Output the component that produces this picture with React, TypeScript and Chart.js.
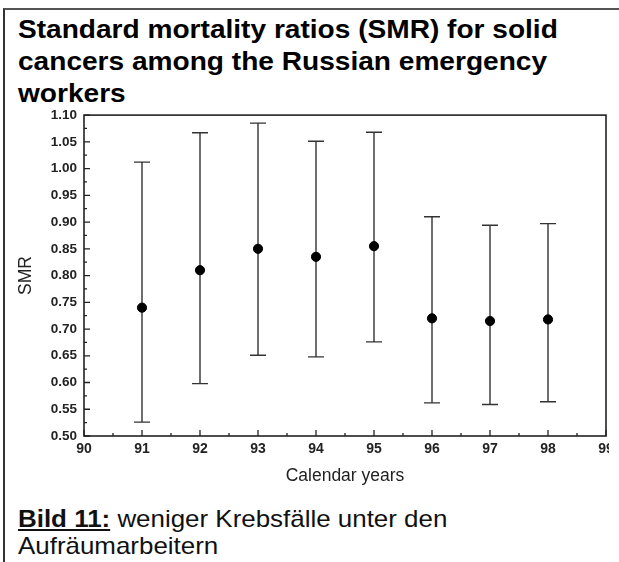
import React, { useEffect, useRef } from "react";
import { Chart, registerables } from "chart.js";

Chart.register(...registerables);

const years = [91, 92, 93, 94, 95, 96, 97, 98];
const smr = [0.74, 0.81, 0.85, 0.835, 0.855, 0.72, 0.715, 0.718];
const lower = [0.526, 0.598, 0.651, 0.648, 0.676, 0.562, 0.559, 0.564];
const upper = [1.012, 1.067, 1.085, 1.051, 1.068, 0.91, 0.894, 0.897];

const xMin = 90;
const xMax = 99;
const yMin = 0.5;
const yMax = 1.1;

const titleLines = [
  "Standard mortality ratios (SMR) for solid",
  "cancers among the Russian emergency",
  "workers",
];
const captionBold = "Bild 11:";
const captionRest = " weniger Krebsfälle unter den";
const captionLine2 = "Aufräumarbeitern";
const xTitle = "Calendar years";
const yTitle = "SMR";

const INK = "#222";

const errorBarsPlugin = {
  id: "errorBars",
  beforeDatasetsDraw(chart: any) {
    const { ctx, scales } = chart;
    const x = scales.x;
    const y = scales.y;
    ctx.save();
    ctx.strokeStyle = "#333";
    ctx.lineWidth = 1.4;
    const cap = 8;
    years.forEach((yr, i) => {
      const px = x.getPixelForValue(yr);
      const pLo = y.getPixelForValue(lower[i]);
      const pHi = y.getPixelForValue(upper[i]);
      ctx.beginPath();
      ctx.moveTo(px, pLo);
      ctx.lineTo(px, pHi);
      ctx.moveTo(px - cap, pLo);
      ctx.lineTo(px + cap, pLo);
      ctx.moveTo(px - cap, pHi);
      ctx.lineTo(px + cap, pHi);
      ctx.stroke();
    });
    ctx.restore();
  },
  afterDraw(chart: any) {
    const { ctx, scales, chartArea } = chart;
    const x = scales.x;
    const y = scales.y;
    ctx.save();
    ctx.strokeStyle = "#222";
    ctx.lineWidth = 1.6;
    ctx.strokeRect(
      chartArea.left,
      chartArea.top,
      chartArea.right - chartArea.left,
      chartArea.bottom - chartArea.top
    );
    ctx.lineWidth = 1.3;
    ctx.beginPath();
    const nx = Math.round((xMax - xMin) * 2);
    for (let i = 0; i <= nx; i++) {
      const v = xMin + i * 0.5;
      const px = x.getPixelForValue(v);
      const len = i % 2 === 0 ? 6 : 3;
      ctx.moveTo(px, chartArea.bottom);
      ctx.lineTo(px, chartArea.bottom - len);
    }
    const ny = Math.round((yMax - yMin) / 0.025);
    for (let i = 0; i <= ny; i++) {
      const v = yMin + i * 0.025;
      const py = y.getPixelForValue(v);
      const len = i % 2 === 0 ? 6 : 3;
      ctx.moveTo(chartArea.left, py);
      ctx.lineTo(chartArea.left + len, py);
    }
    ctx.stroke();
    ctx.restore();
  },
};

function SmrChart() {
  const ref = useRef<HTMLCanvasElement | null>(null);
  useEffect(() => {
    if (!ref.current) return;
    const chart = new Chart(ref.current, {
      type: "scatter",
      data: {
        datasets: [
          {
            label: yTitle,
            data: years.map((yr, i) => ({ x: yr, y: smr[i] })),
            backgroundColor: "#000",
            borderColor: "#000",
            pointRadius: 4.6,
            pointHoverRadius: 4.6,
          },
        ],
      },
      options: {
        animation: false,
        responsive: false,
        maintainAspectRatio: false,
        events: [],
        layout: { padding: { top: 15, right: 13, bottom: 0, left: 0 } },
        plugins: {
          legend: { display: false },
          tooltip: { enabled: false },
        },
        scales: {
          x: {
            type: "linear",
            min: xMin,
            max: xMax,
            grid: { display: false, drawTicks: false },
            border: { display: false },
            ticks: {
              stepSize: 1,
              padding: 5,
              color: INK,
              font: { family: "Arial, 'Liberation Sans', sans-serif", size: 14, weight: "bold" },
              callback: (v: any) => String(v),
            },
            title: {
              display: true,
              text: xTitle,
              color: INK,
              font: { family: "Arial, 'Liberation Sans', sans-serif", size: 17.5 },
              padding: { top: 0, bottom: 8 },
            },
            afterFit: (s: any) => {
              s.height = 59;
            },
          },
          y: {
            type: "linear",
            min: yMin,
            max: yMax,
            grid: { display: false, drawTicks: false },
            border: { display: false },
            ticks: {
              stepSize: 0.05,
              padding: 7,
              color: INK,
              font: { family: "Arial, 'Liberation Sans', sans-serif", size: 13.5, weight: "bold" },
              callback: (v: any) => Number(v).toFixed(2),
            },
            title: {
              display: true,
              text: yTitle,
              color: INK,
              font: { family: "Arial, 'Liberation Sans', sans-serif", size: 17.5 },
              padding: { top: 16, bottom: 0 },
            },
            afterFit: (s: any) => {
              s.width = 84;
            },
          },
        },
      },
      plugins: [errorBarsPlugin],
    } as any);
    return () => chart.destroy();
  }, []);
  return <canvas ref={ref} width={619} height={395} style={{ display: "block", width: 619, height: 395 }} />;
}

export default function App() {
  return (
    <div
      style={{
        position: "fixed",
        left: 0,
        top: 0,
        width: 619,
        height: 562,
        overflow: "hidden",
        background: "#fff",
        fontFamily: "Arial, 'Liberation Sans', sans-serif",
      }}
    >
      <div
        style={{
          position: "absolute",
          left: 3,
          top: 8,
          width: 620,
          height: 560,
          borderLeft: "2px solid #333",
          borderTop: "2px solid #555",
        }}
      />
      <div
        style={{
          position: "absolute",
          left: 18,
          top: 13,
          fontSize: 26,
          lineHeight: "32px",
          fontWeight: "bold",
          color: "#000",
          whiteSpace: "nowrap",
          transform: "scaleX(1.08)",
          transformOrigin: "left top",
        }}
      >
        {titleLines.map((t, i) => (
          <div key={i}>{t}</div>
        ))}
      </div>
      <div style={{ position: "absolute", left: 0, top: 100, width: 609, height: 395, overflow: "hidden" }}>
        <SmrChart />
      </div>
      <div
        style={{
          position: "absolute",
          left: 18,
          top: 505,
          fontSize: 24,
          lineHeight: "27px",
          color: "#111",
          whiteSpace: "nowrap",
          transform: "scaleX(1.08)",
          transformOrigin: "left top",
        }}
      >
        <div>
          <span style={{ fontWeight: "bold", textDecoration: "underline" }}>{captionBold}</span>
          {captionRest}
        </div>
        <div>{captionLine2}</div>
      </div>
    </div>
  );
}
